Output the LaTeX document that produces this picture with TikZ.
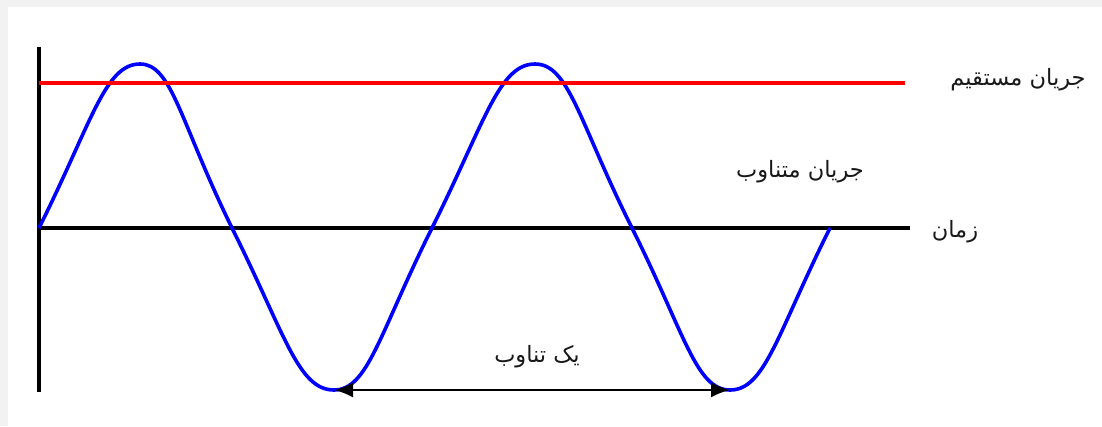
\documentclass[tikz,border=0pt]{standalone}
\usepackage{fontspec}
\TeXXeTstate=1
\newfontfamily\arabicfont[Script=Arabic]{DejaVu Sans}
\usetikzlibrary{arrows.meta}
\definecolor{bggray}{HTML}{F2F2F2}
\begin{document}
\begin{tikzpicture}[x=1pt,y=-1pt,
  lbl/.style={font=\arabicfont\fontsize{22.5}{26}\selectfont, inner sep=0pt, text=black!90},
  axisline/.style={line width=3.6pt, black},
  wave/.style={line width=3.6pt, blue, line join=round},
  dcline/.style={line width=3.6pt, red},
  periodarrow/.style={line width=2.4pt, black, {Latex[length=19pt,width=15pt]}-{Latex[length=19pt,width=15pt]}}]
\fill[bggray] (0,0) rectangle (1102,426);
\fill[white] (8,7) rectangle (1102,426);
\useasboundingbox (0,0) rectangle (1102,426);
\coordinate (origin) at (39,228);
\coordinate (ytop) at (39,47);
\coordinate (ybot) at (39,392);
\coordinate (xend) at (910,228);
\coordinate (dcstart) at (39,83);
\coordinate (dcend) at (905,83);
\coordinate (peak1) at (140,64);
\coordinate (zero1) at (232,228);
\coordinate (trough1) at (334,390);
\coordinate (zero2) at (432,228);
\coordinate (peak2) at (535,64);
\coordinate (zero3) at (632,228);
\coordinate (trough2) at (730,390);
\coordinate (zero4) at (830,228);
\draw[axisline] (ytop) -- (ybot);
\draw[axisline] (origin) -- (xend);
\draw[wave] (origin)
  .. controls (92,122) and (105,64) .. (peak1)
  .. controls (172,64) and (180,122) .. (zero1)
  .. controls (285,334) and (298,390) .. (trough1)
  .. controls (368,390) and (379,334) .. (zero2)
  .. controls (485,122) and (499,64) .. (peak2)
  .. controls (569,64) and (579,122) .. (zero3)
  .. controls (685,334) and (696,390) .. (trough2)
  .. controls (765,390) and (777,334) .. (zero4);
\draw[dcline] (dcstart) -- (dcend);
\draw[periodarrow] (trough1) -- (trough2);
\node[lbl] (dc) at (1018,80) {\beginR جریان مستقیم\endR};
\node[lbl] (ac) at (800,172) {\beginR جریان متناوب\endR};
\node[lbl] (time) at (955,232) {\beginR زمان\endR};
\node[lbl] (period) at (537,357) {\beginR یک تناوب\endR};
\end{tikzpicture}
\end{document}
